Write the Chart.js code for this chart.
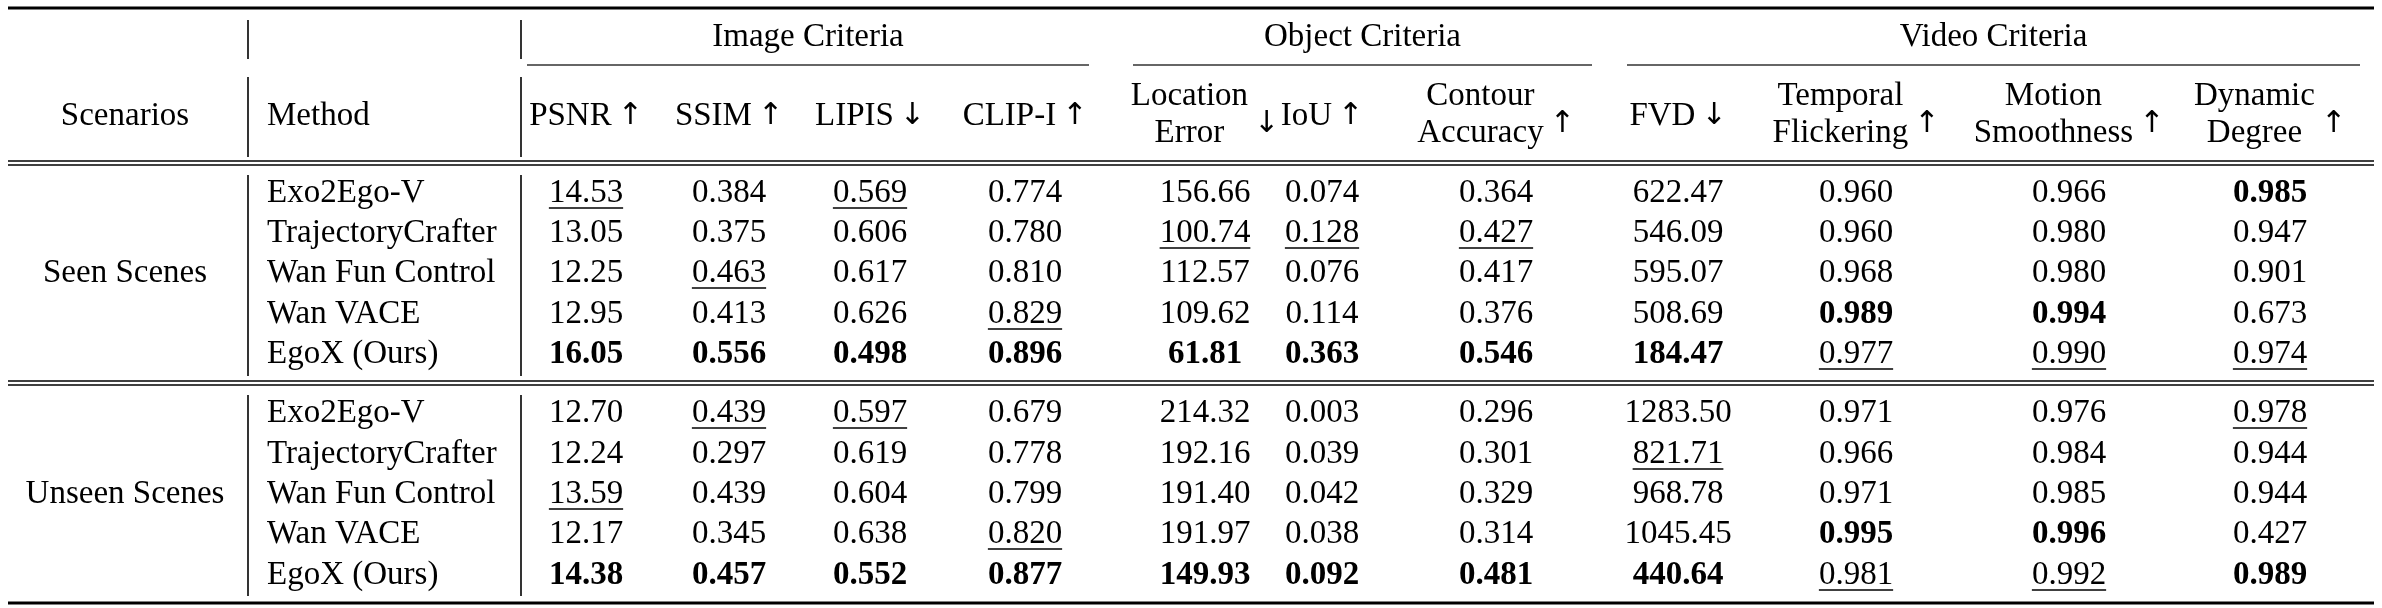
<!DOCTYPE html>
<html><head><meta charset="utf-8">
<script src="https://cdn.jsdelivr.net/npm/chart.js@4"></script>
<style>html,body{margin:0;padding:0;background:#fff}canvas{display:block}</style>
</head><body>
<canvas id="c" width="2382" height="608"></canvas>
<script>
const scenarios = ["Seen Scenes", "Unseen Scenes"];
const methods = ["Exo2Ego-V", "TrajectoryCrafter", "Wan Fun Control", "Wan VACE", "EgoX (Ours)"];
const groups = ["Image Criteria", "Object Criteria", "Video Criteria"];
const metricNames = [["PSNR"],["SSIM"],["LIPIS"],["CLIP-I"],["Location","Error"],["IoU"],["Contour","Accuracy"],["FVD"],["Temporal","Flickering"],["Motion","Smoothness"],["Dynamic","Degree"]];
const metricArrows = ["↑","↑","↓","↑","↓","↑","↑","↓","↑","↑","↑"];

const seenValues = [
  ["14.53","0.384","0.569","0.774","156.66","0.074","0.364","622.47","0.960","0.966","0.985"],
  ["13.05","0.375","0.606","0.780","100.74","0.128","0.427","546.09","0.960","0.980","0.947"],
  ["12.25","0.463","0.617","0.810","112.57","0.076","0.417","595.07","0.968","0.980","0.901"],
  ["12.95","0.413","0.626","0.829","109.62","0.114","0.376","508.69","0.989","0.994","0.673"],
  ["16.05","0.556","0.498","0.896","61.81","0.363","0.546","184.47","0.977","0.990","0.974"]
];
const unseenValues = [
  ["12.70","0.439","0.597","0.679","214.32","0.003","0.296","1283.50","0.971","0.976","0.978"],
  ["12.24","0.297","0.619","0.778","192.16","0.039","0.301","821.71","0.966","0.984","0.944"],
  ["13.59","0.439","0.604","0.799","191.40","0.042","0.329","968.78","0.971","0.985","0.944"],
  ["12.17","0.345","0.638","0.820","191.97","0.038","0.314","1045.45","0.995","0.996","0.427"],
  ["14.38","0.457","0.552","0.877","149.93","0.092","0.481","440.64","0.981","0.992","0.989"]
];
const seenBold  = [4,4,4,4,4,4,4,4,3,3,0];
const seenUnder = [0,2,0,3,1,1,1,-1,4,4,4];
const unseenBold  = [4,4,4,4,4,4,4,4,3,3,4];
const unseenUnder = [2,0,0,3,-1,-1,-1,1,4,4,0];

const colX = [586,729,870,1025,1205,1322,1496,1678,1856,2069,2270];
const groupSpan = [[527,1089],[1133,1592],[1627,2360]];
const rowY = [[193,233,273,314,354],[413,454,494,534,575]];
const FONT = '"Liberation Serif","Times New Roman",serif';
const FS = 33;
const AFONT = '30px "DejaVu Sans"';

const tablePlugin = {
  id: 'table',
  afterDraw(chart) {
    const ctx = chart.ctx, X = v => chart.scales.x.getPixelForValue(v), Y = v => chart.scales.y.getPixelForValue(v);
    ctx.save();
    ctx.textBaseline = 'middle';
    const hline = (x1, x2, y, w, col) => { ctx.beginPath(); ctx.lineWidth = w; ctx.strokeStyle = col || '#000'; ctx.moveTo(X(x1), Y(y)); ctx.lineTo(X(x2), Y(y)); ctx.stroke(); };
    const vline = (x, y1, y2) => { ctx.beginPath(); ctx.lineWidth = 1.6; ctx.strokeStyle = '#000'; ctx.moveTo(X(x), Y(y1)); ctx.lineTo(X(x), Y(y2)); ctx.stroke(); };
    const text = (s, x, y, align, bold, under, font) => {
      ctx.font = font || ((bold ? 'bold ' : '') + FS + 'px ' + FONT);
      ctx.textAlign = align; ctx.fillStyle = '#000';
      ctx.fillText(s, X(x), Y(y));
      if (under) {
        const w = ctx.measureText(s).width;
        const x0 = align === 'center' ? X(x) - w / 2 : X(x);
        ctx.beginPath(); ctx.lineWidth = 1.5; ctx.strokeStyle = '#000';
        ctx.moveTo(x0, Y(y) + 15); ctx.lineTo(x0 + w, Y(y) + 15); ctx.stroke();
      }
    };
    hline(8, 2374, 8, 3);
    hline(8, 2374, 161, 1.5); hline(8, 2374, 165, 1.5);
    hline(8, 2374, 381, 1.5); hline(8, 2374, 385, 1.5);
    hline(8, 2374, 603, 3);
    groupSpan.forEach(g => hline(g[0], g[1], 65, 1.8, '#666'));
    [248, 521].forEach(x => { vline(x, 20, 59); vline(x, 77, 157); vline(x, 175, 376); vline(x, 395, 596); });
    groups.forEach((g, i) => text(g, (groupSpan[i][0] + groupSpan[i][1]) / 2, 37, 'center'));
    text('Scenarios', 125, 116, 'center');
    text('Method', 267, 116, 'left');
    metricNames.forEach((lines, i) => {
      const arrow = metricArrows[i];
      ctx.font = AFONT;
      const aw = ctx.measureText(arrow).width;
      ctx.font = FS + 'px ' + FONT;
      const tw = Math.max(...lines.map(l => ctx.measureText(l).width));
      const gap = 6, total = tw + gap + aw;
      const left = colX[i] - total / 2;
      const tc = left + tw / 2;
      if (lines.length === 1) {
        text(lines[0], tc, 116, 'center');
        text(arrow, left + tw + gap + aw / 2, 116, 'center', false, false, AFONT);
      } else {
        text(lines[0], tc, 96, 'center');
        text(lines[1], tc, 133, 'center');
        text(arrow, left + tw + gap + aw / 2, 124, 'center', false, false, AFONT);
      }
    });
    const sets = [[seenValues, seenBold, seenUnder], [unseenValues, unseenBold, unseenUnder]];
    sets.forEach((s, si) => {
      text(scenarios[si], 125, rowY[si][2], 'center');
      methods.forEach((m, r) => {
        const y = rowY[si][r];
        text(m, 267, y, 'left');
        s[0][r].forEach((v, c) => text(v, colX[c], y, 'center', s[1][c] === r, s[2][c] === r));
      });
    });
    ctx.restore();
  }
};

new Chart(document.getElementById('c'), {
  type: 'scatter',
  data: { datasets: [{ data: [], pointRadius: 0 }] },
  options: {
    responsive: false, animation: false, devicePixelRatio: 1,
    layout: { padding: 0 },
    plugins: { legend: { display: false }, tooltip: { enabled: false } },
    scales: {
      x: { type: 'linear', min: 0, max: 2382, display: false },
      y: { type: 'linear', min: 0, max: 608, reverse: true, display: false }
    }
  },
  plugins: [tablePlugin]
});
</script>
</body></html>
